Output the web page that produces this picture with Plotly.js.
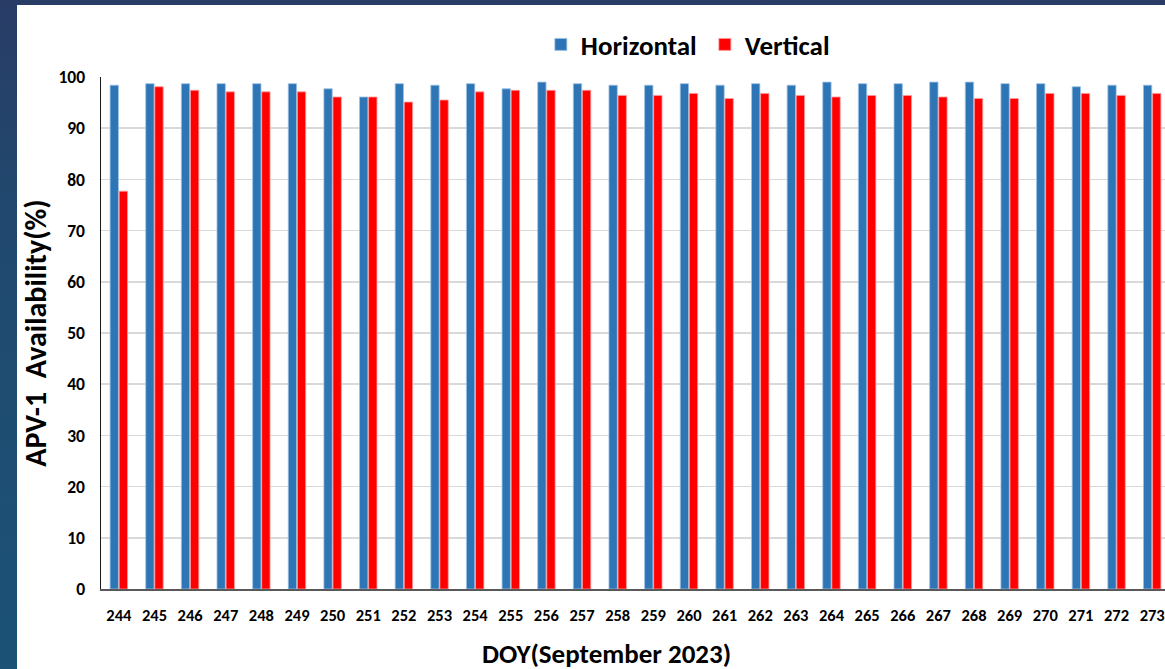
<!DOCTYPE html>
<html>
<head>
<meta charset="utf-8">
<script src="https://cdn.plot.ly/plotly-3.0.1.min.js"></script>
<style>
  html, body { margin: 0; padding: 0; width: 1165px; height: 669px; overflow: hidden; }
  body { background: linear-gradient(180deg, #283c66 0%, #21486e 30%, #1b5276 100%); position: relative; }
  #chart { position: absolute; left: 17px; top: 5px; width: 1160px; height: 664px; background: #fff; }
</style>
</head>
<body>
<div id="chart"></div>
<script>
// Day of year, September 2023
const days = [244, 245, 246, 247, 248, 249, 250, 251, 252, 253, 254, 255, 256, 257, 258,
              259, 260, 261, 262, 263, 264, 265, 266, 267, 268, 269, 270, 271, 272, 273];

// APV-1 availability (%) per day
const horizontal = [98.4, 98.7, 98.7, 98.7, 98.7, 98.7, 97.7, 96.1, 98.7, 98.4, 98.7, 97.7, 99.0, 98.7, 98.4,
                    98.4, 98.7, 98.4, 98.7, 98.4, 99.0, 98.7, 98.7, 99.0, 99.0, 98.7, 98.7, 98.1, 98.4, 98.4];
const vertical   = [77.7, 98.1, 97.4, 97.1, 97.1, 97.1, 96.1, 96.1, 95.1, 95.5, 97.1, 97.4, 97.4, 97.4, 96.4,
                    96.4, 96.8, 95.8, 96.8, 96.4, 96.1, 96.4, 96.4, 96.1, 95.8, 95.8, 96.8, 96.8, 96.4, 96.8];

const yTicks = [0, 10, 20, 30, 40, 50, 60, 70, 80, 90, 100];

const xTitle = 'DOY(September 2023)';
const yTitle = 'APV-1  Availability(%)';

const FONT = 'Carlito, Lato, "Liberation Sans", sans-serif';

const traces = [
  {
    type: 'bar', name: 'Horizontal', x: days, y: horizontal,
    marker: { color: '#2E75B6', line: { color: '#9DC3E6', width: 0.8 } }
  },
  {
    type: 'bar', name: 'Vertical', x: days, y: vertical,
    marker: { color: '#FF0000', line: { color: '#FF9A9A', width: 0.8 } }
  }
];

const layout = {
  width: 1160, height: 664,
  margin: { l: 84, r: 7, t: 72, b: 80, autoexpand: false },
  paper_bgcolor: '#ffffff', plot_bgcolor: '#ffffff',
  barmode: 'group', bargap: 0.49, bargroupgap: 0.08,
  font: { family: FONT, color: '#000', size: 16 },
  showlegend: true,
  legend: {
    orientation: 'h', xref: 'container', yref: 'container',
    x: 0.4516, xanchor: 'left', y: 0.94, yanchor: 'middle',
    font: { family: FONT, size: 27, color: '#000', weight: 'bold' },
    itemwidth: 30, entrywidth: 119, entrywidthmode: 'pixels', traceorder: 'normal'
  },
  xaxis: {
    type: 'linear', range: [243.5, 273.5],
    tickmode: 'array', tickvals: days, ticktext: days.map(String),
    tickfont: { family: FONT, size: 16.5, weight: 'bold' },
    ticks: '', ticklabelstandoff: 11,
    showgrid: false, zeroline: false,
    showline: true, linecolor: '#595959', linewidth: 1.5
  },
  yaxis: {
    range: [0, 100], tickmode: 'array', tickvals: yTicks,
    tickfont: { family: FONT, size: 17.5, weight: 'bold' },
    ticks: '', ticklabelstandoff: 11,
    showgrid: true, gridcolor: '#d9d9d9', gridwidth: 1.5,
    zeroline: false,
    showline: true, linecolor: '#1a1a1a', linewidth: 1.5,
    title: { text: yTitle, font: { family: FONT, size: 30, weight: 'bold' }, standoff: 15 }
  },
  annotations: [
    {
      text: xTitle, xref: 'paper', yref: 'paper', x: 0.4733, y: -0.125,
      xanchor: 'center', yanchor: 'middle', showarrow: false,
      font: { family: FONT, size: 27, color: '#000', weight: 'bold' }
    }
  ]
};

Plotly.newPlot('chart', traces, layout, { displayModeBar: false, staticPlot: true });
</script>
</body>
</html>
